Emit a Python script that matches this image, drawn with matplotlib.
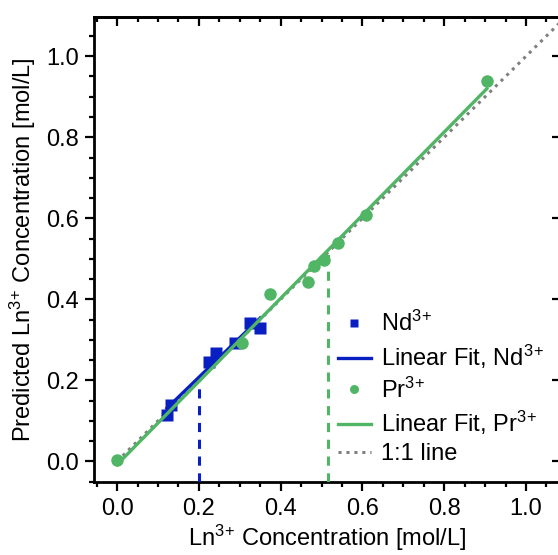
import numpy as np
import matplotlib
matplotlib.use('Agg')
import matplotlib.pyplot as plt
from matplotlib.ticker import MultipleLocator

plt.rcParams['font.family'] = ['Liberation Sans', 'DejaVu Sans']
plt.rcParams['mathtext.fontset'] = 'custom'
plt.rcParams['mathtext.rm'] = 'Liberation Sans'
plt.rcParams['mathtext.default'] = 'regular'
plt.rcParams['font.size'] = 17

# measured vs predicted concentrations (mol/L)
nd_x = [0.122, 0.132, 0.225, 0.243, 0.288, 0.326, 0.350]
nd_y = [0.115, 0.140, 0.246, 0.268, 0.292, 0.341, 0.329]

pr_x = [0.000, 0.306, 0.373, 0.466, 0.481, 0.506, 0.540, 0.608, 0.904]
pr_y = [0.004, 0.292, 0.413, 0.442, 0.483, 0.498, 0.540, 0.609, 0.940]

# concentrations marked with dashed drop lines
nd_mark = 0.20
pr_mark = 0.515

blue = '#0A1FC2'
green = '#50B665'
grey = '#808080'

ion = '$^{3}$$^{+}$'

nd_fit = np.polyfit(nd_x, nd_y, 1)
pr_fit = np.polyfit(pr_x, pr_y, 1)

fig = plt.figure(figsize=(5.58, 5.55), dpi=100)
ax = fig.add_axes([0.168, 0.1315, 0.837, 0.838])

xlim = (-0.057, 1.085)
ylim = (-0.051, 1.097)

one, = ax.plot([0, 1.2], [0, 1.2], ls=(0, (1, 1.6)), color=grey, lw=2.2,
               label='1:1 line', zorder=1)

nd_pts, = ax.plot(nd_x, nd_y, 's', color=blue, ms=8.5, mec='none',
                  label='Nd' + ion, zorder=2)
fx = np.array([min(nd_x), max(nd_x)])
nd_line, = ax.plot(fx, np.polyval(nd_fit, fx), color=blue, lw=2.4,
                   label='Linear Fit, Nd' + ion, zorder=3)

pr_pts, = ax.plot(pr_x, pr_y, 'o', color=green, ms=9, mec='none',
                  label='Pr' + ion, zorder=4)
fx = np.array([min(pr_x), max(pr_x)])
pr_line, = ax.plot(fx, np.polyval(pr_fit, fx), color=green, lw=2.4,
                   label='Linear Fit, Pr' + ion, zorder=5)

# drop lines from the fits down to the x axis
ax.plot([nd_mark, nd_mark], [ylim[0], np.polyval(nd_fit, nd_mark)],
        ls=(0, (3, 2.5)), color=blue, lw=2.2, zorder=3)
ax.plot([pr_mark, pr_mark], [ylim[0], np.polyval(pr_fit, pr_mark)],
        ls=(0, (3, 2.5)), color=green, lw=2.2, zorder=3)

ax.set_xlim(xlim)
ax.set_ylim(ylim)

for a in (ax.xaxis, ax.yaxis):
    a.set_major_locator(MultipleLocator(0.2))
    a.set_minor_locator(MultipleLocator(0.05))
    a.set_major_formatter('{x:.1f}')

for s in ax.spines.values():
    s.set_linewidth(2.0)

ax.tick_params(which='major', direction='out', length=6.5, width=1.6, pad=4)
ax.tick_params(axis='x', which='major', pad=5)
ax.tick_params(which='minor', direction='out', length=3.5, width=1.6)

# inward ticks on the top and right sides
top = ax.secondary_xaxis('top')
top.xaxis.set_major_locator(MultipleLocator(0.2))
top.xaxis.set_minor_locator(MultipleLocator(0.05))
top.tick_params(which='major', direction='in', length=6.5, width=1.6, labeltop=False)
top.tick_params(which='minor', direction='in', length=3.5, width=1.6)
right = ax.secondary_yaxis('right')
right.yaxis.set_major_locator(MultipleLocator(0.2))
right.tick_params(which='major', direction='in', length=6.5, width=1.6, labelright=False)
for sec in (top, right):
    for s in sec.spines.values():
        s.set_linewidth(2.0)

ax.set_xlabel('Ln' + ion + ' Concentration [mol/L]', labelpad=2)
ax.set_ylabel('Predicted Ln' + ion + ' Concentration [mol/L]', labelpad=6)

ax.legend(handles=[nd_pts, nd_line, pr_pts, pr_line, one],
          loc='lower right', bbox_to_anchor=(1.0, 0.0), frameon=False,
          handlelength=1.4, handletextpad=0.45, labelspacing=0.27,
          borderaxespad=0.3, markerscale=0.72, fontsize=17)

fig.savefig('out.png', dpi=100)
